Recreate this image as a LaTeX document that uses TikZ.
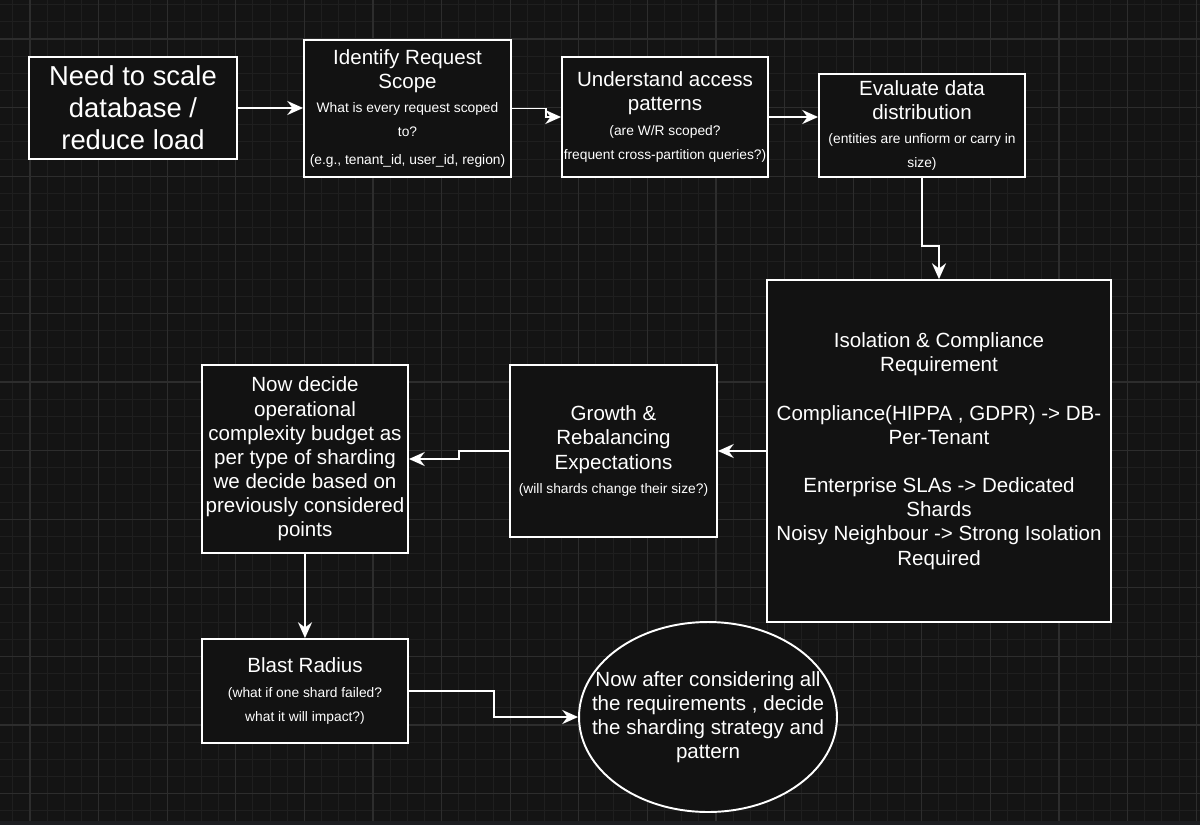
\documentclass[tikz,border=0pt]{standalone}
\usepackage{fontspec}
\setmainfont{Liberation Sans}
\usetikzlibrary{arrows.meta,shapes.geometric}
\definecolor{canvas}{HTML}{141414}
\definecolor{gridminor}{HTML}{1F1F1F}
\definecolor{gridmajor}{HTML}{2D2D2D}
\definecolor{boxfill}{HTML}{121212}
\definecolor{band}{HTML}{1D1E21}
\newcommand{\bigtxt}{\fontsize{15.6pt}{18.1pt}\selectfont}
\newcommand{\titletxt}{\fontsize{11.7pt}{13.75pt}\selectfont}
\newcommand{\smalltxt}{\fontsize{7.85pt}{13.9pt}\selectfont}

\begin{document}
\begin{tikzpicture}[x=0.02cm, y=-0.02cm,
  box/.style={rectangle, draw=white, fill=boxfill, line width=1.1pt, text=white, align=center, font=\titletxt, inner sep=1pt},
  arr/.style={draw=white, line width=1.1pt, -{Stealth[length=9pt,width=8pt,inset=3pt]}}]
  \useasboundingbox (0,0) rectangle (1200,825);
  \fill[canvas] (0,0) rectangle (1200,825);
  % grid
  \foreach \i in {0,...,69}
    \draw[gridminor, line width=0.55pt] ({12.85+17.15*\i},0) -- ({12.85+17.15*\i},821);
  \foreach \i in {0,...,47}
    \draw[gridminor, line width=0.55pt] (0,{4.7+17.15*\i}) -- (1200,{4.7+17.15*\i});
  \foreach \i in {0,...,17}
    \draw[gridmajor, line width=0.6pt] ({30+68.6*\i},0) -- ({30+68.6*\i},821);
  \foreach \i in {0,...,11}
    \draw[gridmajor, line width=0.6pt] (0,{39+68.6*\i}) -- (1200,{39+68.6*\i});
  \fill[band] (0,821) rectangle (1200,825);

  \node[box, font=\bigtxt, minimum width=4.16cm, minimum height=2.04cm] (scale) at (133,108)
    {Need to scale\\database /\\reduce load};
  \node[box, minimum width=4.14cm, minimum height=2.74cm] (scope) at (407.5,108.5)
    {Identify Request\\Scope\\\smalltxt What is every request scoped\\\smalltxt to?\\[2.3pt]\smalltxt (e.g., tenant\_id, user\_id, region)};
  \node[box, minimum width=4.12cm, minimum height=2.4cm] (access) at (665,117)
    {Understand access\\patterns\\\smalltxt (are W/R scoped?\\\smalltxt frequent cross-partition queries?)};
  \node[box, minimum width=4.12cm, minimum height=2.06cm] (distrib) at (922,125.5)
    {Evaluate data\\distribution\\\smalltxt (entities are unfiorm or carry in\\\smalltxt size)};
  \node[box, minimum width=6.88cm, minimum height=6.84cm] (isolation) at (939,451)
    {Isolation \& Compliance\\Requirement\\[13.75pt]Compliance(HIPPA , GDPR) -> DB-\\Per-Tenant\\[13.75pt]Enterprise SLAs -> Dedicated\\Shards\\Noisy Neighbour -> Strong Isolation\\Required};
  \node[box, minimum width=4.14cm, minimum height=3.44cm] (growth) at (613.5,451)
    {Growth \&\\Rebalancing\\Expectations\\\smalltxt (will shards change their size?)};
  \node[box, minimum width=4.12cm, minimum height=3.76cm] (budget) at (305,459)
    {Now decide\\operational\\complexity budget as\\per type of sharding\\we decide based on\\previously considered\\points};
  \node[box, minimum width=4.12cm, minimum height=2.08cm] (blast) at (305,691)
    {Blast Radius\\\smalltxt (what if one shard failed?\\\smalltxt what it will impact?)};
  \node[box, ellipse, inner xsep=-16pt, inner ysep=0pt, minimum width=5.16cm, minimum height=3.8cm] (strategy) at (708,717)
    {Now after considering all\\the requirements , decide\\the sharding strategy and\\pattern};

  \draw[arr] (scale) -- (scale -| scope.west);
  \draw[arr] (scope.east) -- ++(34,0) |- (access.west);
  \draw[arr] (access.east) -- (access.east -| distrib.west);
  \draw[arr] (distrib.south) -- ++(0,68) -| (isolation.north);
  \draw[arr] (isolation.west) -- (growth.east);
  \draw[arr] (growth.west) -- ++(-50,0) |- (budget.east);
  \draw[arr] (budget.south) -- (blast.north);
  \draw[arr] (blast.east) -- ++(85,0) |- (strategy.west);
\end{tikzpicture}
\end{document}
